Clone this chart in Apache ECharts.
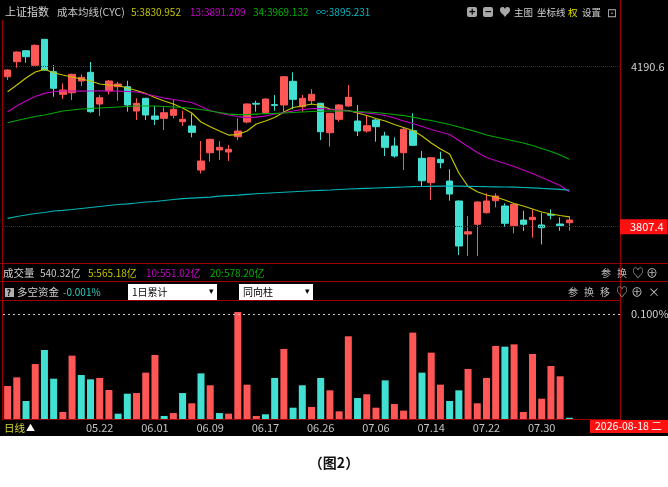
<!DOCTYPE html>
<html>
<head>
<meta charset="utf-8">
<script src="https://cdn.jsdelivr.net/npm/echarts@6/dist/echarts.min.js"></script>
<style>
html,body{margin:0;padding:0;background:#fff;}
#bg{position:absolute;left:0;top:0;width:668px;height:436px;background:#000;}
#main{position:absolute;left:0;top:0;width:668px;height:487px;}
</style>
</head>
<body>
<div id="bg"></div>
<div id="main"></div>
<script>
// 日期（最后5格为空位）
var dates = ['05.08','05.11','05.12','05.13','05.14','05.15','05.18','05.19','05.20','05.21',
  '05.22','05.25','05.26','05.27','05.28','05.29','06.01','06.02','06.03','06.04',
  '06.05','06.08','06.09','06.10','06.11','06.12','06.15','06.16','06.17','06.18',
  '06.22','06.23','06.24','06.25','06.26','06.29','06.30','07.01','07.02','07.03',
  '07.06','07.07','07.08','07.09','07.10','07.13','07.14','07.15','07.16','07.17',
  '07.20','07.21','07.22','07.23','07.24','07.27','07.28','07.29','07.30','07.31',
  '08.03','08.04','08.05','08.06','08.07','08.10','08.11'];
var tickDates = ['05.22','06.01','06.09','06.17','06.26','07.06','07.14','07.22','07.30'];

// K线 [开, 收, 低, 高]
var candles = [
  [4166.6,4182.7,4158.7,4184.0],[4202.6,4225.8,4188.2,4227.0],[4228.9,4214.5,4200.2,4230.0],
  [4194.0,4241.9,4193.0,4244.0],[4256.2,4182.7,4181.0,4257.0],[4178.6,4138.9,4118.8,4194.7],
  [4124.5,4134.8,4113.2,4150.8],[4128.3,4172.4,4110.9,4174.0],[4156.4,4165.2,4144.4,4172.4],
  [4177.2,4082.8,4080.4,4201.9],[4101.3,4116.4,4072.5,4122.8],[4132.4,4156.4,4124.5,4158.7],
  [4142.7,4149.2,4109.2,4154.7],[4142.7,4098.9,4082.8,4157.0],[4084.5,4102.9,4063.0,4114.9],
  [4114.9,4074.9,4063.0,4116.0],[4072.5,4064.6,4051.0,4096.5],[4067.0,4080.4,4039.0,4093.4],
  [4074.2,4088.6,4067.0,4112.5],[4058.9,4064.6,4048.6,4085.2],[4048.6,4033.5,4021.5,4079.0],
  [3943.2,3964.8,3934.8,4012.6],[3984.6,4016.7,3963.1,4018.0],[3991.1,3997.6,3967.1,4012.6],
  [3986.3,3992.8,3964.8,4003.1],[4023.0,4036.6,4015.0,4067.0],[4058.2,4101.3,4055.0,4103.0],
  [4103.0,4101.0,4082.8,4109.2],[4080.4,4113.2,4078.0,4115.0],[4099.8,4098.0,4085.2,4122.8],
  [4098.9,4166.6,4079.0,4168.0],[4155.6,4112.5,4088.6,4177.2],[4094.8,4114.9,4082.8,4122.8],
  [4109.2,4124.5,4098.9,4136.5],[4103.0,4034.9,4015.0,4104.0],[4032.5,4079.0,3999.0,4080.0],
  [4064.6,4098.9,4059.0,4101.0],[4096.5,4117.3,4094.8,4146.8],[4060.6,4036.6,4024.6,4098.9],
  [4036.6,4049.3,4032.5,4074.9],[4063.0,4046.9,4011.0,4065.0],[4024.6,3997.6,3976.7,4034.9],
  [4000.7,3976.7,3972.7,4021.5],[3984.6,4040.7,3943.2,4045.5],[4037.3,4002.4,4000.7,4079.0],
  [3971.2,3917.6,3903.2,3988.7],[3912.8,3972.7,3871.4,3974.0],[3968.8,3960.7,3947.3,3987.0],
  [3916.8,3885.7,3869.7,3944.9],[3869.0,3761.2,3739.6,3870.0],[3789.9,3795.4,3737.2,3833.0],
  [3813.2,3866.6,3737.0,3868.0],[3840.9,3869.0,3839.0,3887.4],[3869.7,3880.9,3853.9,3887.4],
  [3857.0,3815.6,3807.4,3863.4],[3809.8,3861.0,3791.6,3862.0],[3823.4,3813.2,3797.1,3845.7],
  [3824.2,3829.9,3781.0,3849.0],[3811.5,3805.0,3765.0,3840.9],[3837.1,3835.0,3825.0,3849.0],
  [3813.9,3809.8,3797.8,3829.9],[3817.0,3823.4,3797.8,3833.0]
];

// 成本均线 CYC
var cyc5 = [4130.7,4146.8,4163.5,4177.9,4184.4,4176.2,4170.7,4165.9,4161.1,4156.4,
  4149.2,4146.8,4145.6,4139.6,4133.6,4126.4,4116.8,4108.5,4101.3,4091.7,
  4079.7,4058.2,4046.9,4036.6,4027.0,4028.2,4036.6,4053.4,4060.6,4068.9,
  4082.1,4092.9,4096.5,4101.3,4097.7,4089.3,4086.9,4085.7,4079.7,4073.7,
  4066.5,4060.6,4052.2,4045.0,4037.8,4024.6,4007.9,3993.5,3981.5,3936.0,
  3903.7,3891.2,3883.3,3878.5,3871.4,3863.0,3857.0,3849.8,3842.6,3837.8,
  3834.2,3831.0];
var cyc13 = [4082.8,4096.5,4108.5,4119.2,4126.9,4130.7,4132.4,4132.4,4132.0,4132.4,
  4132.6,4132.4,4132.0,4131.2,4130.0,4125.2,4120.4,4115.6,4112.1,4108.5,
  4104.9,4095.3,4085.7,4079.7,4074.9,4071.3,4068.9,4070.1,4072.5,4077.3,
  4080.9,4084.5,4088.1,4090.0,4090.5,4088.1,4086.9,4084.5,4082.1,4079.7,
  4077.3,4073.7,4067.7,4060.6,4054.6,4047.4,4040.2,4034.2,4028.2,4013.9,
  3999.5,3985.1,3973.1,3966.0,3958.8,3951.6,3943.2,3934.8,3925.2,3915.7,
  3906.1,3891.2];
var cyc34 = [4056.5,4061.8,4066.5,4071.3,4074.9,4079.7,4084.5,4086.9,4089.3,4090.5,
  4091.7,4092.9,4094.1,4095.3,4096.5,4096.5,4096.5,4095.3,4094.1,4092.9,
  4090.5,4088.1,4084.5,4080.9,4077.3,4076.1,4076.1,4077.3,4078.5,4079.0,
  4079.7,4080.9,4082.1,4083.3,4084.0,4084.5,4084.5,4084.5,4083.3,4082.1,
  4080.9,4078.5,4076.1,4073.7,4070.1,4065.3,4061.8,4057.0,4052.2,4046.2,
  4040.2,4034.2,4027.0,4022.2,4017.4,4012.7,4007.9,4001.9,3994.7,3987.5,
  3979.1,3969.1];
var cycInf = [3827.5,3831.8,3835.4,3839.0,3841.4,3845.0,3846.7,3848.6,3851.0,3853.4,
  3855.8,3858.2,3860.6,3862.3,3864.2,3866.6,3867.8,3870.2,3872.6,3874.5,
  3876.1,3877.3,3878.5,3880.9,3882.1,3883.3,3885.0,3886.4,3887.6,3888.8,
  3890.0,3891.2,3892.4,3893.6,3894.6,3895.3,3896.5,3897.7,3898.4,3899.4,
  3900.1,3900.8,3901.8,3902.5,3903.2,3903.7,3904.2,3904.4,3904.4,3904.4,
  3904.2,3903.7,3903.2,3902.9,3902.5,3902.0,3901.3,3900.6,3899.0,3898.0,
  3897.0,3895.2];

// 多空资金（%），r=红 c=青
var flowPct = [0.0315,0.0398,0.0172,0.0525,0.0659,0.0385,0.0067,0.0605,0.042,0.0379,
  0.0392,0.0277,0.0051,0.0242,0.0248,0.0443,0.0611,0.0029,0.0057,0.0248,
  0.015,0.0436,0.0322,0.0057,0.0051,0.1022,0.0328,0.0029,0.0045,0.0392,
  0.0669,0.0108,0.0322,0.0115,0.0392,0.0274,0.0073,0.079,0.02,0.0236,
  0.0108,0.0369,0.0143,0.008,0.0825,0.0443,0.0634,0.0328,0.0172,0.0274,
  0.0478,0.015,0.0392,0.0697,0.0691,0.0713,0.0067,0.0621,0.0194,0.0506,
  0.0408,0.0012];
var flowSide = 'rrcrccrrccrrccrrrcrcrcrcrrrrccrccrcrrrcrrcrrrcrrccrrrrcrrrrrrc'.split('');

var RED = '#ff5656', CYAN = '#42e0d2', FRAME = '#9a0000';
var FONT = '"Noto Sans CJK SC", sans-serif';

var flowData = flowPct.map(function (v, i) {
  return { value: v, itemStyle: { color: flowSide[i] === 'r' ? RED : CYAN } };
});

function txt(x, y, s, color, size, extra) {
  var st = { text: s, x: x, y: y, fill: color, fontSize: size || 11, fontFamily: FONT, verticalAlign: 'middle' };
  for (var k in extra) st[k] = extra[k];
  return { type: 'text', silent: true, style: st };
}
function line(x1, y1, x2, y2, color) {
  return { type: 'line', silent: true, shape: { x1: x1, y1: y1, x2: x2, y2: y2 }, style: { stroke: color || FRAME, lineWidth: 1 } };
}
function box(x, y, w, h, fill, r) {
  return { type: 'rect', silent: true, shape: { x: x, y: y, width: w, height: h, r: r || 0 }, style: { fill: fill } };
}

var myChart = echarts.init(document.getElementById('main'));

var option = {
  backgroundColor: 'transparent',
  animation: false,
  grid: [
    { left: 3, top: 20, width: 617, height: 243 },
    { left: 3, top: 301, width: 617, height: 118 }
  ],
  xAxis: [
    { type: 'category', gridIndex: 0, data: dates, boundaryGap: true, show: false },
    {
      type: 'category', gridIndex: 1, data: dates, boundaryGap: true,
      axisLine: { lineStyle: { color: FRAME } },
      axisTick: { show: false },
      axisLabel: {
        color: '#c4c4c4', fontSize: 11, fontFamily: FONT, margin: 3,
        interval: function (idx, val) { return tickDates.indexOf(val) >= 0; }
      }
    }
  ],
  yAxis: [
    { type: 'value', gridIndex: 0, min: 3720.5, max: 4302.5, show: false },
    { type: 'value', gridIndex: 1, min: 0, max: 0.1127, show: false }
  ],
  series: [
    {
      type: 'candlestick', xAxisIndex: 0, yAxisIndex: 0, data: candles, barWidth: 7,
      itemStyle: { color: RED, color0: CYAN, borderColor: RED, borderColor0: CYAN, borderWidth: 1 },
      markLine: {
        silent: true, symbol: 'none',
        lineStyle: { color: '#a00000', type: 'dotted', width: 1 },
        data: [
          { yAxis: 4190.6, label: { formatter: '4190.6', position: 'end', color: '#d0d0d0', fontSize: 11, fontFamily: FONT, distance: 11 } },
          { yAxis: 3807.4, label: { formatter: '3807.4', position: 'end', color: '#fff', fontSize: 11, fontFamily: FONT, distance: 0,
            backgroundColor: '#ff1010', padding: [2, 4, 2, 10] } }
        ]
      }
    },
    { type: 'line', xAxisIndex: 0, yAxisIndex: 0, data: cyc5, symbol: 'none', lineStyle: { color: '#c4c400', width: 1.2 } },
    { type: 'line', xAxisIndex: 0, yAxisIndex: 0, data: cyc13, symbol: 'none', lineStyle: { color: '#c000c0', width: 1.2 } },
    { type: 'line', xAxisIndex: 0, yAxisIndex: 0, data: cyc34, symbol: 'none', lineStyle: { color: '#00a800', width: 1.2 } },
    { type: 'line', xAxisIndex: 0, yAxisIndex: 0, data: cycInf, symbol: 'none', lineStyle: { color: '#00b4b8', width: 1.2 } },
    {
      type: 'bar', xAxisIndex: 1, yAxisIndex: 1, data: flowData, barWidth: 7,
      markLine: {
        silent: true, symbol: 'none',
        lineStyle: { color: '#c8c8c8', type: [2, 3], width: 1 },
        data: [
          { yAxis: 0.1, label: { formatter: '0.100%', position: 'end', color: '#d0d0d0', fontSize: 11, fontFamily: FONT, distance: 11 } }
        ]
      }
    }
  ],
  graphic: { elements: [
    // 边框
    line(620.5, 0, 620.5, 420), line(2.5, 20, 2.5, 420),
    line(0, 263.5, 668, 263.5), line(0, 281.5, 668, 281.5), line(0, 300.5, 620, 300.5),
    // 标题行
    txt(5, 12, '上证指数', '#d4d4d4', 11),
    txt(57, 12, '成本均线(CYC)', '#c8c8c8', 10.5),
    txt(131, 12, '5:3830.952', '#c4c400', 10),
    txt(190, 12, '13:3891.209', '#c800c8', 10),
    txt(253, 12, '34:3969.132', '#00b000', 10),
    txt(316, 12, '∞:3895.231', '#00b8c0', 10),
    box(467, 7, 10, 10, '#a8a8a8', 2), txt(469, 12, '+', '#000', 11, { fontWeight: 'bold' }),
    box(483, 7, 10, 10, '#a8a8a8', 2), txt(485, 12, '−', '#000', 11, { fontWeight: 'bold' }),
    txt(499, 12, '♥', '#a8a8a8', 12),
    txt(514, 12, '主图', '#d0d0d0', 9.5),
    txt(537, 12, '坐标线', '#d0d0d0', 9.5),
    txt(568, 12, '权', '#e0e000', 9.5),
    txt(582, 12, '设置', '#d0d0d0', 9.5),
    txt(607, 12, '⊡', '#b0b0b0', 12),
    // 成交量行
    txt(3, 273, '成交量', '#d0d0d0', 10.5),
    txt(40, 273, '540.32亿', '#c8c8c8', 10),
    txt(88, 273, '5:565.18亿', '#c4c400', 10),
    txt(146, 273, '10:551.02亿', '#c800c8', 10),
    txt(210, 273, '20:578.20亿', '#00b000', 10),
    txt(601, 273, '参', '#bdbdbd', 10), txt(617, 273, '换', '#bdbdbd', 10),
    txt(632, 273, '♡', '#bdbdbd', 12), txt(646, 273, '⊕', '#bdbdbd', 12),
    // 多空资金行
    box(5, 288, 9, 9, '#b0b0b0'), txt(6.5, 292.5, '?', '#000', 9, { fontWeight: 'bold' }),
    txt(17, 292, '多空资金', '#d0d0d0', 10.5),
    txt(63, 292, '-0.001%', '#2ccfc0', 10),
    box(128, 284, 89, 16, '#fff'), txt(132, 292, '1日累计', '#000', 10), txt(209, 291, '▾', '#000', 9),
    box(239, 284, 74, 16, '#fff'), txt(243, 292, '同向柱', '#000', 10), txt(305, 291, '▾', '#000', 9),
    txt(568, 292, '参', '#bdbdbd', 10), txt(584, 292, '换', '#bdbdbd', 10), txt(600, 292, '移', '#bdbdbd', 10),
    txt(616, 292, '♡', '#bdbdbd', 12), txt(631, 292, '⊕', '#bdbdbd', 12), txt(648, 292, '×', '#bdbdbd', 12),
    // 日期行
    txt(4, 428, '日线', '#d8d830', 10.5),
    txt(26, 428, '▲', '#ffffff', 9),
    box(590, 420, 78, 13, '#ff1010'),
    txt(595, 426.5, '2026-08-18 二', '#ffffff', 10.5),
    // 图注
    txt(334, 463, '（图2）', '#111', 14, { align: 'center', fontWeight: 'bold' })
  ] }
};

myChart.setOption(option);
</script>
</body>
</html>
